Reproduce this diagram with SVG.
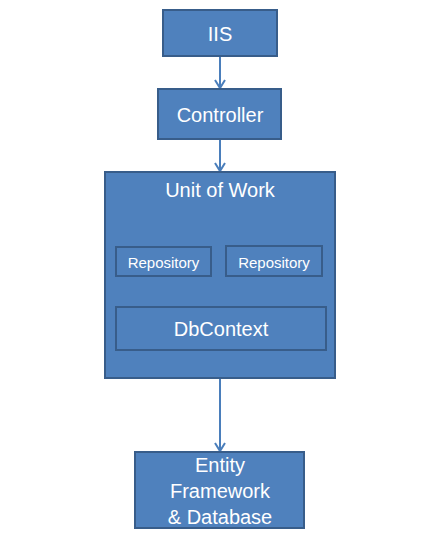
<svg xmlns="http://www.w3.org/2000/svg" width="440" height="541" viewBox="0 0 440 541">
<style>
.box{fill:#4F81BD;stroke:#385D8A;stroke-width:2}
.t{fill:#fff;font-family:"Liberation Sans",Arial,sans-serif;text-anchor:middle;dominant-baseline:central;font-size:20px}
.s{font-size:15px}
.conn{stroke:#4A7EBB;stroke-width:2;fill:none}
</style>
<defs>
<marker id="arr" markerWidth="12" markerHeight="12" refX="10" refY="6" orient="auto" markerUnits="userSpaceOnUse">
<path d="M2,1 L10,6 L2,11" fill="none" stroke="#4A7EBB" stroke-width="2"/>
</marker>
</defs>
<rect width="440" height="541" fill="#fff"/>
<g id="connectors">
<line class="conn" x1="220" y1="57" x2="220" y2="88" marker-end="url(#arr)"/>
<line class="conn" x1="220" y1="140" x2="220" y2="171" marker-end="url(#arr)"/>
<line class="conn" x1="220" y1="379" x2="220" y2="451" marker-end="url(#arr)"/>
</g>
<g id="iis">
<rect class="box" x="163" y="10" width="114" height="46"/>
<text class="t" x="220" y="34">IIS</text>
</g>
<g id="controller">
<rect class="box" x="158" y="89" width="123" height="50"/>
<text class="t" x="220" y="115">Controller</text>
</g>
<g id="unitofwork">
<rect class="box" x="105" y="172" width="230" height="206"/>
<text class="t" x="220" y="190">Unit of Work</text>
</g>
<g id="repository1">
<rect class="box" x="116" y="247" width="95" height="29"/>
<text class="t s" x="163.5" y="262">Repository</text>
</g>
<g id="repository2">
<rect class="box" x="226" y="246" width="96" height="30"/>
<text class="t s" x="274" y="262">Repository</text>
</g>
<g id="dbcontext">
<rect class="box" x="116" y="307" width="210" height="43"/>
<text class="t" x="221" y="329">DbContext</text>
</g>
<g id="entity">
<rect class="box" x="135" y="452" width="169" height="76"/>
<text class="t" x="220" y="465">Entity</text>
<text class="t" x="220" y="491">Framework</text>
<text class="t" x="220" y="517">&amp; Database</text>
</g>
</svg>
